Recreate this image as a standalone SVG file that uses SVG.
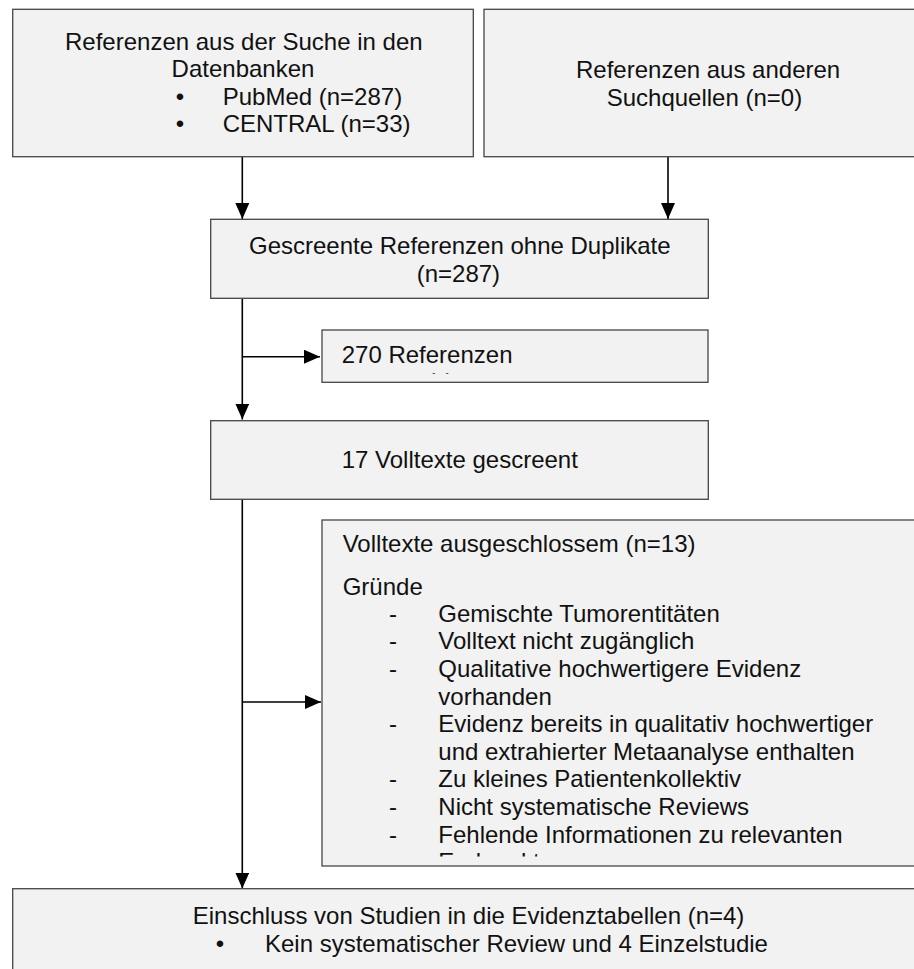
<svg xmlns="http://www.w3.org/2000/svg" width="914" height="969" viewBox="0 0 914 969">
<style>
.box{fill:#f2f2f2;stroke:#454545;stroke-width:1.3}
.t{font-family:"Liberation Sans",Arial,sans-serif;font-size:24px;fill:#111}
.c{stroke:#000;stroke-width:1.6;fill:none}
</style>
<defs>
<marker id="ah" markerUnits="userSpaceOnUse" markerWidth="16" markerHeight="14" refX="16" refY="7" orient="auto">
<path d="M0,0 L16,7 L0,14 Z" fill="#000"/>
</marker>
<clipPath id="clipV"><rect x="322" y="520" width="600" height="336.5"/></clipPath>
<clipPath id="clip270"><rect x="322" y="330" width="386" height="43.8"/></clipPath>
</defs>
<rect width="914" height="969" fill="#fff"/>
<g id="connectors">
<path class="c" d="M242.3,156 V219" marker-end="url(#ah)"/>
<path class="c" d="M668,156 V219" marker-end="url(#ah)"/>
<path class="c" d="M242.3,298.3 V419.5" marker-end="url(#ah)"/>
<path class="c" d="M242.3,356.7 H320" marker-end="url(#ah)"/>
<path class="c" d="M242.3,499.3 V888.5" marker-end="url(#ah)"/>
<path class="c" d="M242.3,702 H321" marker-end="url(#ah)"/>
</g>
<g id="n-datenbanken">
<rect class="box" x="12.7" y="9.3" width="460.6" height="147.4"/>
<text class="t" x="65" y="49.5">Referenzen aus der Suche in den</text>
<text class="t" x="243" y="77" text-anchor="middle">Datenbanken</text>
<text class="t" x="180" y="104.5" text-anchor="middle">•</text>
<text class="t" x="222.7" y="104.5">PubMed (n=287)</text>
<text class="t" x="180" y="132" text-anchor="middle">•</text>
<text class="t" x="222.7" y="132">CENTRAL (n=33)</text>
</g>
<g id="n-andere">
<rect class="box" x="484" y="9.3" width="440" height="147.4"/>
<text class="t" x="576" y="78">Referenzen aus anderen</text>
<text class="t" x="606.7" y="105.6">Suchquellen (n=0)</text>
</g>
<g id="n-gescreent">
<rect class="box" x="210.7" y="219.3" width="497.6" height="79"/>
<text class="t" x="249" y="254">Gescreente Referenzen ohne Duplikate</text>
<text class="t" x="416.7" y="281.7">(n=287)</text>
</g>
<g id="n-270">
<rect class="box" x="322" y="330" width="386" height="52.3"/>
<g clip-path="url(#clip270)">
<text class="t" x="341.7" y="362.7">270 Referenzen</text>
<text class="t" x="341.7" y="389.5">ausgeschlossen</text>
</g>
</g>
<g id="n-volltexte">
<rect class="box" x="210.7" y="420.7" width="497.6" height="78.6"/>
<text class="t" x="341.7" y="468.3">17 Volltexte gescreent</text>
</g>
<g id="n-ausgeschlossen">
<rect class="box" x="322" y="520" width="600" height="346"/>
<g clip-path="url(#clipV)">
<text class="t" x="342.7" y="551.7">Volltexte ausgeschlossem (n=13)</text>
<text class="t" x="342.7" y="595">Gründe</text>
<text class="t" x="389" y="621.7">-</text><text class="t" x="438.3" y="621.7">Gemischte Tumorentitäten</text>
<text class="t" x="389" y="649.3">-</text><text class="t" x="438.3" y="649.3">Volltext nicht zugänglich</text>
<text class="t" x="389" y="676.9">-</text><text class="t" x="438.3" y="676.9">Qualitative hochwertigere Evidenz</text>
<text class="t" x="438.3" y="704.5">vorhanden</text>
<text class="t" x="389" y="732.1">-</text><text class="t" x="438.3" y="732.1">Evidenz bereits in qualitativ hochwertiger</text>
<text class="t" x="438.3" y="759.7">und extrahierter Metaanalyse enthalten</text>
<text class="t" x="389" y="787.3">-</text><text class="t" x="438.3" y="787.3">Zu kleines Patientenkollektiv</text>
<text class="t" x="389" y="814.9">-</text><text class="t" x="438.3" y="814.9">Nicht systematische Reviews</text>
<text class="t" x="389" y="842.5">-</text><text class="t" x="438.3" y="842.5">Fehlende Informationen zu relevanten</text>
<text class="t" x="438.3" y="870.1">Endpunkten</text>
</g>
</g>
<g id="n-einschluss">
<rect class="box" x="12.7" y="888.7" width="911.3" height="90"/>
<text class="t" x="192.7" y="923.5">Einschluss von Studien in die Evidenztabellen (n=4)</text>
<text class="t" x="220" y="951.5" text-anchor="middle">•</text>
<text class="t" x="265" y="951.5">Kein systematischer Review und 4 Einzelstudie</text>
</g>
</svg>
